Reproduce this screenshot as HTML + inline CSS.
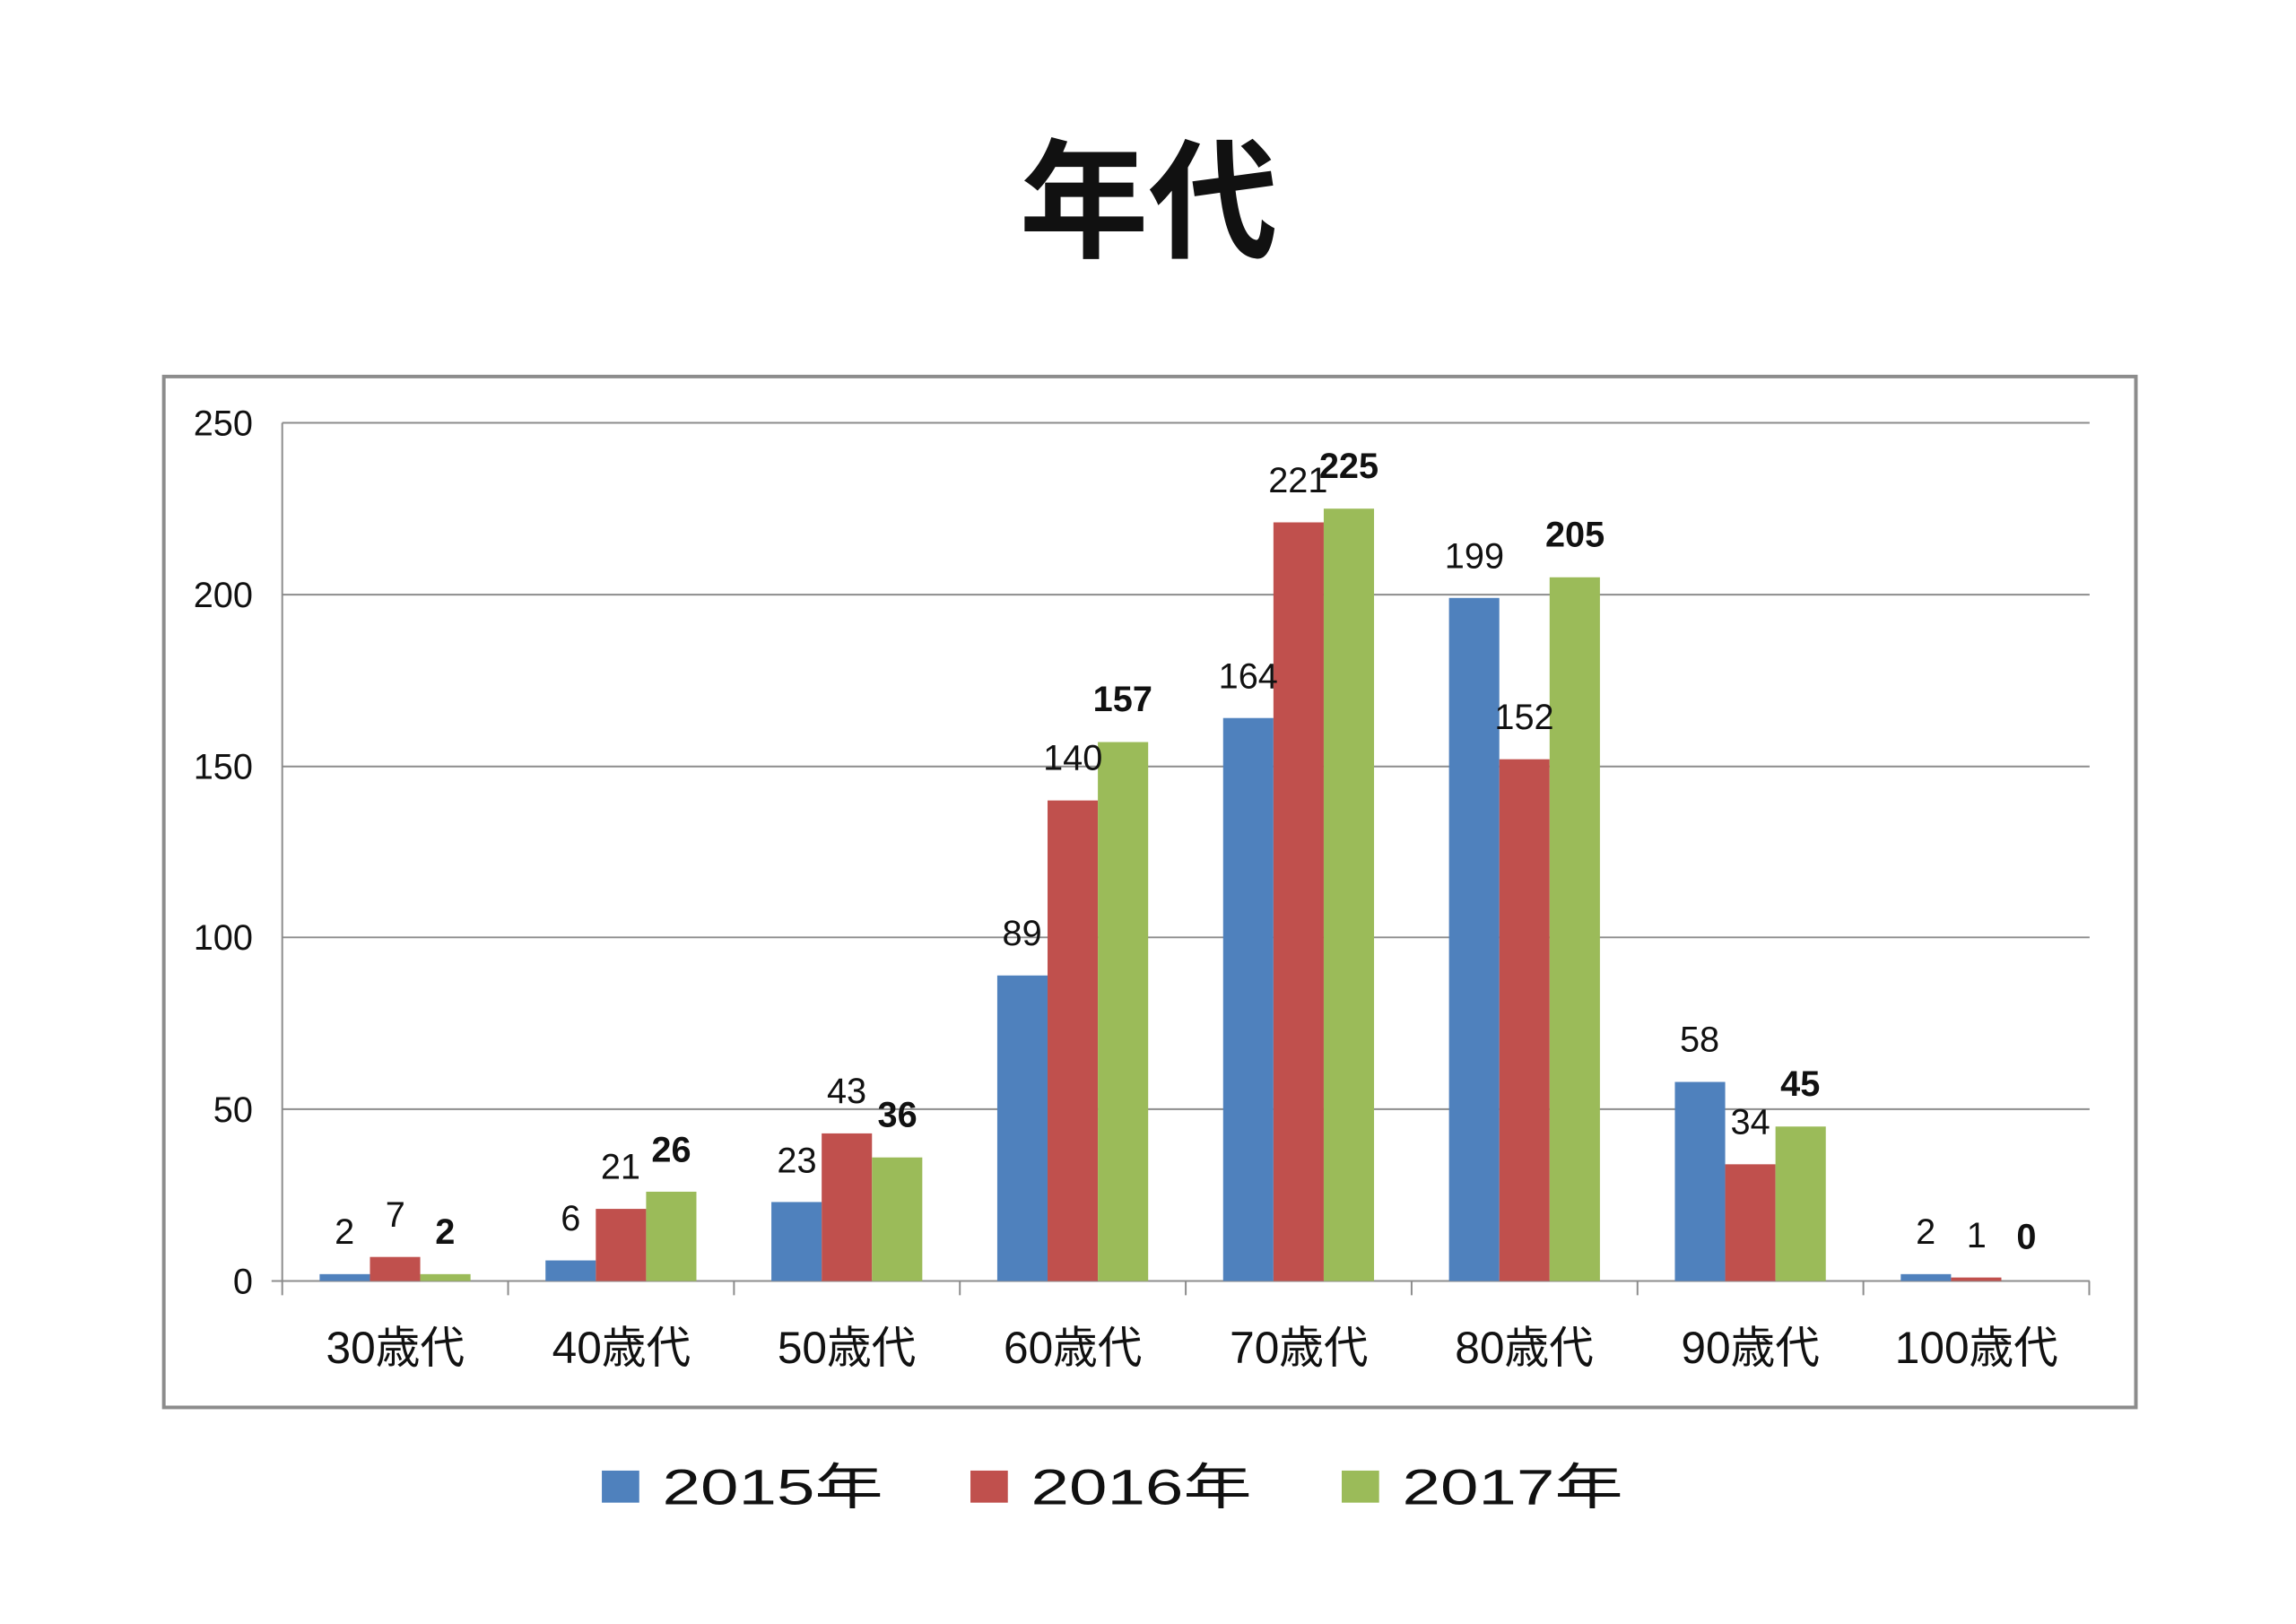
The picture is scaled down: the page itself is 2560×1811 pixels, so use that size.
<!DOCTYPE html>
<html><head><meta charset="utf-8"><style>
html,body{margin:0;padding:0;background:#fff;}
svg{display:block;}
text{font-family:"Liberation Sans","Noto Sans CJK JP",sans-serif;fill:#111;}
</style></head><body>
<svg width="2560" height="1811" viewBox="0 0 2560 1811" xmlns="http://www.w3.org/2000/svg">
<g transform="scale(0.9927)">
<text x="1290" y="278" font-size="145" font-weight="bold" text-anchor="middle" style="font-family:'Noto Sans CJK JP',sans-serif">年代</text>
<rect x="184" y="423" width="2215" height="1158" fill="none" stroke="#8c8c8c" stroke-width="4"/>
<g stroke="#8c8c8c" stroke-width="2">
<line x1="317" y1="475" x2="2347" y2="475"/>
<line x1="317" y1="668" x2="2347" y2="668"/>
<line x1="317" y1="861" x2="2347" y2="861"/>
<line x1="317" y1="1053" x2="2347" y2="1053"/>
<line x1="317" y1="1246" x2="2347" y2="1246"/>
<line x1="305" y1="1439" x2="2347" y2="1439"/>
<line x1="317" y1="475" x2="317" y2="1455"/>
<line x1="570.7" y1="1439" x2="570.7" y2="1455"/>
<line x1="824.4" y1="1439" x2="824.4" y2="1455"/>
<line x1="1078.1" y1="1439" x2="1078.1" y2="1455"/>
<line x1="1331.8" y1="1439" x2="1331.8" y2="1455"/>
<line x1="1585.5" y1="1439" x2="1585.5" y2="1455"/>
<line x1="1839.2" y1="1439" x2="1839.2" y2="1455"/>
<line x1="2092.9" y1="1439" x2="2092.9" y2="1455"/>
<line x1="2346.6" y1="1439" x2="2346.6" y2="1455"/>
</g>
<g font-size="40" text-anchor="end">
<text x="284" y="489">250</text>
<text x="284" y="682">200</text>
<text x="284" y="875">150</text>
<text x="284" y="1067">100</text>
<text x="284" y="1260">50</text>
<text x="284" y="1453">0</text>
</g>
<g>
<rect x="359" y="1431.3" width="56.5" height="7.7" fill="#4f81bd"/>
<rect x="415.5" y="1412" width="56.5" height="27" fill="#c0504d"/>
<rect x="472" y="1431.3" width="56.5" height="7.7" fill="#9bbb59"/>
<rect x="612.7" y="1415.9" width="56.5" height="23.1" fill="#4f81bd"/>
<rect x="669.2" y="1358" width="56.5" height="81" fill="#c0504d"/>
<rect x="725.7" y="1338.7" width="56.5" height="100.3" fill="#9bbb59"/>
<rect x="866.4" y="1350.3" width="56.5" height="88.7" fill="#4f81bd"/>
<rect x="922.9" y="1273.2" width="56.5" height="165.8" fill="#c0504d"/>
<rect x="979.4" y="1300.2" width="56.5" height="138.8" fill="#9bbb59"/>
<rect x="1120.1" y="1095.8" width="56.5" height="343.2" fill="#4f81bd"/>
<rect x="1176.6" y="899.2" width="56.5" height="539.8" fill="#c0504d"/>
<rect x="1233.1" y="833.6" width="56.5" height="605.4" fill="#9bbb59"/>
<rect x="1373.8" y="806.6" width="56.5" height="632.4" fill="#4f81bd"/>
<rect x="1430.3" y="586.8" width="56.5" height="852.2" fill="#c0504d"/>
<rect x="1486.8" y="571.4" width="56.5" height="867.6" fill="#9bbb59"/>
<rect x="1627.5" y="671.7" width="56.5" height="767.3" fill="#4f81bd"/>
<rect x="1684" y="852.9" width="56.5" height="586.1" fill="#c0504d"/>
<rect x="1740.5" y="648.5" width="56.5" height="790.5" fill="#9bbb59"/>
<rect x="1881.2" y="1215.4" width="56.5" height="223.6" fill="#4f81bd"/>
<rect x="1937.7" y="1307.9" width="56.5" height="131.1" fill="#c0504d"/>
<rect x="1994.2" y="1265.5" width="56.5" height="173.5" fill="#9bbb59"/>
<rect x="2134.9" y="1431.3" width="56.5" height="7.7" fill="#4f81bd"/>
<rect x="2191.4" y="1435.1" width="56.5" height="3.9" fill="#c0504d"/>
</g>
<g font-size="40" text-anchor="middle">
<text x="387" y="1397">2</text>
<text x="444" y="1378">7</text>
<text x="500" y="1397" font-weight="bold">2</text>
<text x="641" y="1382">6</text>
<text x="697" y="1324">21</text>
<text x="754" y="1305" font-weight="bold">26</text>
<text x="895" y="1317">23</text>
<text x="951" y="1239">43</text>
<text x="1008" y="1266" font-weight="bold">36</text>
<text x="1148" y="1062">89</text>
<text x="1205" y="865">140</text>
<text x="1261" y="799" font-weight="bold">157</text>
<text x="1402" y="773">164</text>
<text x="1458" y="553">221</text>
<text x="1515" y="537" font-weight="bold">225</text>
<text x="1656" y="638">199</text>
<text x="1712" y="819">152</text>
<text x="1769" y="614" font-weight="bold">205</text>
<text x="1909" y="1181">58</text>
<text x="1966" y="1274">34</text>
<text x="2022" y="1231" font-weight="bold">45</text>
<text x="2163" y="1397">2</text>
<text x="2220" y="1401">1</text>
<text x="2276" y="1403" font-weight="bold">0</text>
</g>
<g font-size="50" text-anchor="middle">
<text x="444" y="1531">30歳代</text>
<text x="698" y="1531">40歳代</text>
<text x="951" y="1531">50歳代</text>
<text x="1205" y="1531">60歳代</text>
<text x="1459" y="1531">70歳代</text>
<text x="1712" y="1531">80歳代</text>
<text x="1966" y="1531">90歳代</text>
<text x="2220" y="1531">100歳代</text>
</g>
<rect x="676" y="1652" width="42" height="36" fill="#4f81bd"/>
<rect x="1090" y="1652" width="42" height="36" fill="#c0504d"/>
<rect x="1507" y="1652" width="42" height="36" fill="#9bbb59"/>
<g font-size="56">
<text x="744" y="1690" textLength="248" lengthAdjust="spacingAndGlyphs">2015年</text>
<text x="1158" y="1690" textLength="248" lengthAdjust="spacingAndGlyphs">2016年</text>
<text x="1575" y="1690" textLength="248" lengthAdjust="spacingAndGlyphs">2017年</text>
</g>
</g>
</svg>
</body></html>
